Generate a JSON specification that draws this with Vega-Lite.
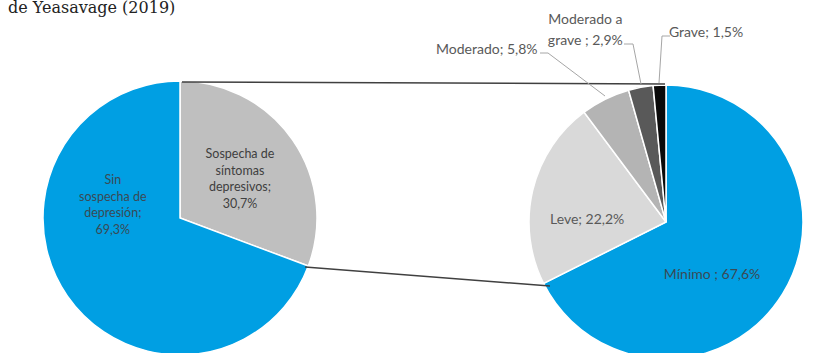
{
  "$schema": "https://vega.github.io/schema/vega-lite/v6.json",
  "width": 839,
  "height": 353,
  "autosize": {"type": "fit", "contains": "padding"},
  "padding": 0,
  "background": "white",
  "config": {"view": {"stroke": null}},
  "data": {
    "values": [
      {"pie": "General", "categoria": "Sospecha de síntomas depresivos", "etiqueta": "Sospecha de\nsíntomas\ndepresivos;\n30,7%", "valor": 30.7, "orden": 1},
      {"pie": "General", "categoria": "Sin sospecha de depresión", "etiqueta": "Sin\nsospecha de\ndepresión;\n69,3%", "valor": 69.3, "orden": 2},
      {"pie": "Detalle", "categoria": "Mínimo", "etiqueta": "Mínimo ; 67,6%", "valor": 67.6, "orden": 1},
      {"pie": "Detalle", "categoria": "Leve", "etiqueta": "Leve; 22,2%", "valor": 22.2, "orden": 2},
      {"pie": "Detalle", "categoria": "Moderado", "etiqueta": "Moderado; 5,8%", "valor": 5.8, "orden": 3},
      {"pie": "Detalle", "categoria": "Moderado a grave", "etiqueta": "Moderado a\ngrave ; 2,9%", "valor": 2.9, "orden": 4},
      {"pie": "Detalle", "categoria": "Grave", "etiqueta": "Grave; 1,5%", "valor": 1.5, "orden": 5}
    ]
  },
  "resolve": {"scale": {"theta": "independent"}},
  "layer": [
    {
      "transform": [{"filter": "datum.pie === 'General'"}],
      "mark": {"type": "arc", "x": 180, "y": 215, "outerRadius": 137, "stroke": "white", "strokeWidth": 1.5},
      "encoding": {
        "theta": {"field": "valor", "type": "quantitative", "stack": true},
        "color": {"field": "categoria", "type": "nominal", "legend": null,
          "scale": {"domain": ["Sin sospecha de depresión", "Sospecha de síntomas depresivos", "Mínimo", "Leve", "Moderado", "Moderado a grave", "Grave"],
                    "range": ["#009FE3", "#BFBFBF", "#009FE3", "#D9D9D9", "#B4B4B4", "#595959", "#0A0A0A"]}},
        "order": {"field": "orden", "type": "quantitative"}
      }
    },
    {
      "transform": [{"filter": "datum.pie === 'Detalle'"}],
      "mark": {"type": "arc", "x": 666, "y": 219, "outerRadius": 137, "stroke": "white", "strokeWidth": 1.5},
      "encoding": {
        "theta": {"field": "valor", "type": "quantitative", "stack": true},
        "color": {"field": "categoria", "type": "nominal", "legend": null,
          "scale": {"domain": ["Sin sospecha de depresión", "Sospecha de síntomas depresivos", "Mínimo", "Leve", "Moderado", "Moderado a grave", "Grave"],
                    "range": ["#009FE3", "#BFBFBF", "#009FE3", "#D9D9D9", "#B4B4B4", "#595959", "#0A0A0A"]}},
        "order": {"field": "orden", "type": "quantitative"}
      }
    },
    {"data": {"values": [{}]}, "mark": {"type": "rule", "stroke": "#404040", "strokeWidth": 1.5}, "encoding": {"x": {"value": 182}, "y": {"value": 79}, "x2": {"value": 665}, "y2": {"value": 81}}},
    {"data": {"values": [{}]}, "mark": {"type": "rule", "stroke": "#404040", "strokeWidth": 1.5}, "encoding": {"x": {"value": 305}, "y": {"value": 264}, "x2": {"value": 550}, "y2": {"value": 283}}},
    {"data": {"values": [{}]}, "mark": {"type": "rule", "stroke": "#A6A6A6", "strokeWidth": 1}, "encoding": {"x": {"value": 540}, "y": {"value": 50}, "x2": {"value": 548}, "y2": {"value": 50}}},
    {"data": {"values": [{}]}, "mark": {"type": "rule", "stroke": "#A6A6A6", "strokeWidth": 1}, "encoding": {"x": {"value": 548}, "y": {"value": 50}, "x2": {"value": 605}, "y2": {"value": 93}}},
    {"data": {"values": [{}]}, "mark": {"type": "rule", "stroke": "#A6A6A6", "strokeWidth": 1}, "encoding": {"x": {"value": 624}, "y": {"value": 41}, "x2": {"value": 633}, "y2": {"value": 41}}},
    {"data": {"values": [{}]}, "mark": {"type": "rule", "stroke": "#A6A6A6", "strokeWidth": 1}, "encoding": {"x": {"value": 633}, "y": {"value": 41}, "x2": {"value": 641}, "y2": {"value": 81}}},
    {"data": {"values": [{}]}, "mark": {"type": "rule", "stroke": "#A6A6A6", "strokeWidth": 1}, "encoding": {"x": {"value": 670}, "y": {"value": 33}, "x2": {"value": 662}, "y2": {"value": 33}}},
    {"data": {"values": [{}]}, "mark": {"type": "rule", "stroke": "#A6A6A6", "strokeWidth": 1}, "encoding": {"x": {"value": 662}, "y": {"value": 33}, "x2": {"value": 659}, "y2": {"value": 80}}},
    {
      "transform": [
        {"filter": "datum.pie === 'General'"},
        {"stack": "valor", "groupby": ["pie"], "sort": [{"field": "orden", "order": "ascending"}], "offset": "normalize", "as": ["v0", "v1"]},
        {"calculate": "(datum.v0 + datum.v1) / 2", "as": "vm"},
        {"filter": "datum.categoria === 'Sospecha de síntomas depresivos'"}
      ],
      "mark": {"type": "text", "x": 180, "y": 215, "radius": 73, "dy": -22, "align": "center", "baseline": "middle", "lineBreak": "\n", "lineHeight": 16.5, "font": "Lato", "fontSize": 12.5, "fill": "#404040"},
      "encoding": {"theta": {"field": "vm", "type": "quantitative", "scale": {"domain": [0, 1]}}, "text": {"field": "etiqueta"}}
    },
    {
      "transform": [
        {"filter": "datum.pie === 'General'"},
        {"stack": "valor", "groupby": ["pie"], "sort": [{"field": "orden", "order": "ascending"}], "offset": "normalize", "as": ["v0", "v1"]},
        {"calculate": "(datum.v0 + datum.v1) / 2", "as": "vm"},
        {"filter": "datum.categoria === 'Sin sospecha de depresión'"}
      ],
      "mark": {"type": "text", "x": 180, "y": 215, "radius": 72, "dx": -8, "dy": -79, "align": "center", "baseline": "middle", "lineBreak": "\n", "lineHeight": 16.5, "font": "Lato", "fontSize": 12.5, "fill": "#3A4A55"},
      "encoding": {"theta": {"field": "vm", "type": "quantitative", "scale": {"domain": [0, 1]}}, "text": {"field": "etiqueta"}}
    },
    {
      "transform": [
        {"filter": "datum.pie === 'Detalle'"},
        {"stack": "valor", "groupby": ["pie"], "sort": [{"field": "orden", "order": "ascending"}], "offset": "normalize", "as": ["v0", "v1"]},
        {"calculate": "(datum.v0 + datum.v1) / 2", "as": "vm"},
        {"filter": "datum.categoria === 'Mínimo'"}
      ],
      "mark": {"type": "text", "x": 666, "y": 219, "radius": 80, "dx": -22, "dy": 11, "align": "center", "baseline": "middle", "font": "Lato", "fontSize": 14, "fill": "#3A4A55"},
      "encoding": {"theta": {"field": "vm", "type": "quantitative", "scale": {"domain": [0, 1]}}, "text": {"field": "etiqueta"}}
    },
    {
      "transform": [
        {"filter": "datum.pie === 'Detalle'"},
        {"stack": "valor", "groupby": ["pie"], "sort": [{"field": "orden", "order": "ascending"}], "offset": "normalize", "as": ["v0", "v1"]},
        {"calculate": "(datum.v0 + datum.v1) / 2", "as": "vm"},
        {"filter": "datum.categoria === 'Leve'"}
      ],
      "mark": {"type": "text", "x": 666, "y": 219, "radius": 80, "dx": -1, "dy": 16, "align": "center", "baseline": "middle", "font": "Lato", "fontSize": 14, "fill": "#595959"},
      "encoding": {"theta": {"field": "vm", "type": "quantitative", "scale": {"domain": [0, 1]}}, "text": {"field": "etiqueta"}}
    },
    {
      "transform": [
        {"filter": "datum.pie === 'Detalle'"},
        {"stack": "valor", "groupby": ["pie"], "sort": [{"field": "orden", "order": "ascending"}], "offset": "normalize", "as": ["v0", "v1"]},
        {"calculate": "(datum.v0 + datum.v1) / 2", "as": "vm"},
        {"filter": "datum.categoria === 'Moderado'"}
      ],
      "mark": {"type": "text", "x": 666, "y": 219, "radius": 150, "dx": -62, "dy": -38, "align": "right", "baseline": "middle", "font": "Lato", "fontSize": 14, "fill": "#595959"},
      "encoding": {"theta": {"field": "vm", "type": "quantitative", "scale": {"domain": [0, 1]}}, "text": {"field": "etiqueta"}}
    },
    {
      "transform": [
        {"filter": "datum.pie === 'Detalle'"},
        {"stack": "valor", "groupby": ["pie"], "sort": [{"field": "orden", "order": "ascending"}], "offset": "normalize", "as": ["v0", "v1"]},
        {"calculate": "(datum.v0 + datum.v1) / 2", "as": "vm"},
        {"filter": "datum.categoria === 'Moderado a grave'"}
      ],
      "mark": {"type": "text", "x": 666, "y": 219, "radius": 150, "dx": -53, "dy": -54.5, "align": "center", "baseline": "middle", "lineBreak": "\n", "lineHeight": 20.5, "font": "Lato", "fontSize": 14, "fill": "#595959"},
      "encoding": {"theta": {"field": "vm", "type": "quantitative", "scale": {"domain": [0, 1]}}, "text": {"field": "etiqueta"}}
    },
    {
      "transform": [
        {"filter": "datum.pie === 'Detalle'"},
        {"stack": "valor", "groupby": ["pie"], "sort": [{"field": "orden", "order": "ascending"}], "offset": "normalize", "as": ["v0", "v1"]},
        {"calculate": "(datum.v0 + datum.v1) / 2", "as": "vm"},
        {"filter": "datum.categoria === 'Grave'"}
      ],
      "mark": {"type": "text", "x": 666, "y": 219, "radius": 150, "dx": 10, "dy": -39, "align": "left", "baseline": "middle", "font": "Lato", "fontSize": 14, "fill": "#595959"},
      "encoding": {"theta": {"field": "vm", "type": "quantitative", "scale": {"domain": [0, 1]}}, "text": {"field": "etiqueta"}}
    },
    {
      "data": {"values": [{"titulo": "de Yeasavage (2019)"}]},
      "mark": {"type": "text", "x": 8, "y": 10, "align": "left", "baseline": "alphabetic", "font": "DejaVu Serif", "fontSize": 16, "fill": "#222222"},
      "encoding": {"text": {"field": "titulo"}}
    }
  ]
}
